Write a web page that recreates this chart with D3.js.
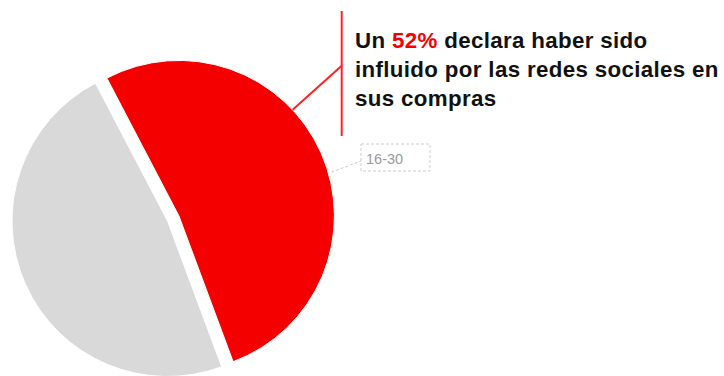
<!DOCTYPE html>
<html>
<head>
<meta charset="utf-8">
<script src="https://cdn.jsdelivr.net/npm/d3@7"></script>
<style>
  html, body { margin: 0; padding: 0; background: #fff; }
  svg { display: block; }
</style>
</head>
<body>
<svg id="chart" width="724" height="376"></svg>
<script>
// Data
const categories = ["Influido por redes sociales", "No influido"];
const values = [52, 48];
const colors = ["#f50000", "#d9d9d9"];
const ageGroup = "16-30";
const headline = [
  [{t: "Un ", c: "#111"}, {t: "52%", c: "#f50000"}, {t: " declara haber sido", c: "#111"}],
  [{t: "influido por las redes sociales en", c: "#111"}],
  [{t: "sus compras", c: "#111"}]
];

const svg = d3.select("#chart");
const W = 724, H = 376;
const cx = 167.5, cy = 221, r = 155.5;
const explode = 12.5;
const deg = Math.PI / 180;

const pie = d3.pie().sort(null).value(d => d)
  .startAngle(-27.6 * deg).endAngle(-27.6 * deg + 2 * Math.PI);
const arcs = pie(values);
const arc = d3.arc().innerRadius(0).outerRadius(r);

const g = svg.append("g").attr("transform", `translate(${cx},${cy})`);
g.selectAll("path").data(arcs).join("path")
  .attr("d", arc)
  .attr("fill", (d, i) => colors[i])
  .attr("stroke", "#fff")
  .attr("stroke-width", 1)
  .attr("transform", (d, i) => {
    if (i !== 0) return null;
    const m = (d.startAngle + d.endAngle) / 2;
    return `translate(${explode * Math.sin(m)},${-explode * Math.cos(m)})`;
  });

// Red slice offset
const redMid = (arcs[0].startAngle + arcs[0].endAngle) / 2;
const ox = cx + explode * Math.sin(redMid), oy = cy - explode * Math.cos(redMid);

// Annotation connector (red)
const a1 = 47 * deg;
const p1 = [ox + r * Math.sin(a1), oy - r * Math.cos(a1)];
const lineX = 341.7;
svg.append("line")
  .attr("x1", p1[0]).attr("y1", p1[1]).attr("x2", lineX).attr("y2", 65.7)
  .attr("stroke", "#f22").attr("stroke-width", 2);
svg.append("line")
  .attr("x1", lineX).attr("y1", 11).attr("x2", lineX).attr("y2", 136)
  .attr("stroke", "#f22").attr("stroke-width", 2);

// Headline text
const txt = svg.append("g")
  .attr("font-family", "Liberation Sans, Arial, sans-serif")
  .attr("font-weight", "bold")
  .attr("font-size", 22.3)
  .attr("letter-spacing", 0.35);
const baselines = [47.7, 76.7, 105.5];
headline.forEach((line, i) => {
  const t = txt.append("text").attr("x", 355).attr("y", baselines[i]);
  line.forEach(s => t.append("tspan").attr("fill", s.c).text(s.t));
});

// Data label 16-30 (dashed)
const a2 = 74 * deg;
const p2 = [ox + (r + 3) * Math.sin(a2), oy - (r + 3) * Math.cos(a2)];
svg.append("line")
  .attr("x1", p2[0]).attr("y1", p2[1]).attr("x2", 361).attr("y2", 161)
  .attr("stroke", "#ccc").attr("stroke-width", 1).attr("stroke-dasharray", "3,2");
svg.append("rect")
  .attr("x", 361).attr("y", 144).attr("width", 69).attr("height", 27)
  .attr("fill", "none").attr("stroke", "#ccc").attr("stroke-width", 1)
  .attr("stroke-dasharray", "3,2");
svg.append("text")
  .attr("x", 366).attr("y", 164.3)
  .attr("font-family", "Liberation Sans, Arial, sans-serif")
  .attr("font-size", 14.5)
  .attr("fill", "#999")
  .text(ageGroup);
</script>
</body>
</html>
